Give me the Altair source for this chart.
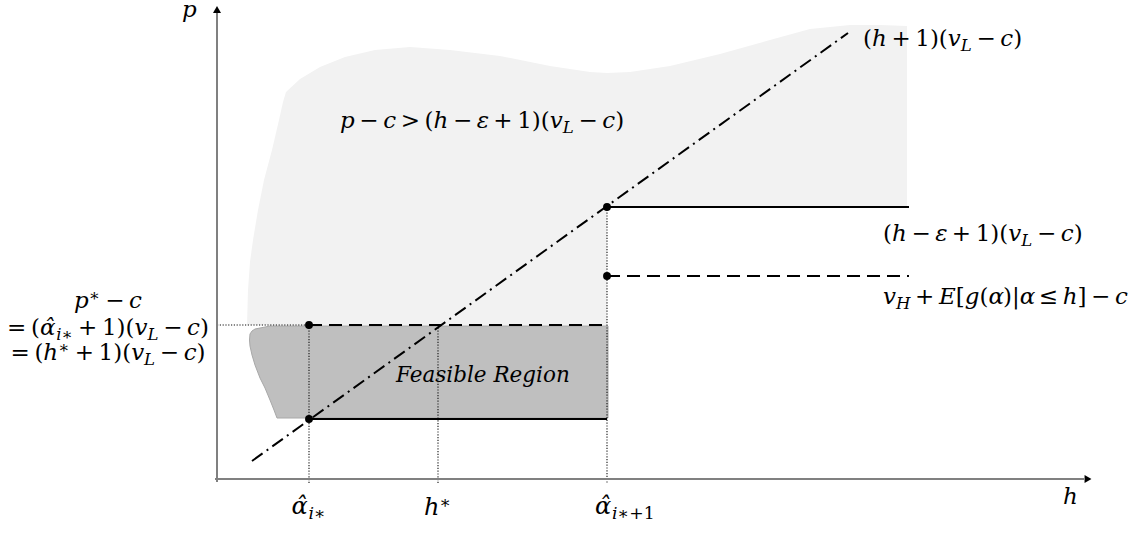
import altair as alt
import pandas as pd

# ---------------------------------------------------------------
# Geometry of the diagram: h on the horizontal axis, p on the vertical
# ---------------------------------------------------------------
H_ALPHA_I = 92        # alpha-hat_{i*}
H_STAR = 221          # h*
H_ALPHA_NEXT = 390    # alpha-hat_{i*+1}
H_END = 692           # right end of the two price schedules
H_AXIS_END = 867
P_AXIS_END = 467

P_LOW = 60            # lower edge of the feasible region
P_STAR = 154          # p* - c
P_VH = 203            # v_H + E[g(alpha) | alpha <= h] - c
P_UP = 272            # (h - eps + 1)(v_L - c)

DIAG_H = [35, 631]    # (h + 1)(v_L - c)
DIAG_P = [18, 446]

# light region  p - c > (h - eps + 1)(v_L - c)
LIGHT_H = [30, 31, 33, 36, 41, 47, 55, 62, 66, 69, 83, 103, 128, 158, 193, 233,
           283, 333, 373, 390, 390.01, 413, 453, 503, 553, 593, 633, 663, 690]
LIGHT_TOP = [154, 189, 217, 239, 269, 299, 329, 359, 377, 387, 400, 412, 422, 429,
             432, 429, 423, 413, 407, 406, 406, 407, 413, 425, 439, 450, 454, 454, 453]
LIGHT_BOTTOM = [154] * 20 + [272] * 9

# feasible region
DARK_H = [32.5, 33, 35, 38, 43, 48, 53, 57, 60, 391]
DARK_TOP = [139, 145, 148, 150, 151, 152, 153, 153, 153, 153]
DARK_BOTTOM = [139, 133, 124, 114, 101, 91, 79, 69, 61, 61]

# ---------------------------------------------------------------
FONT = "DejaVu Serif"
FS = 23
XS = alt.Scale(domain=[-217, 923], nice=False, zero=False)
YS = alt.Scale(domain=[-54, 479], nice=False, zero=False)

# approximate advance widths (em) used to set math runs side by side
ROMAN_W = {"(": 0.390, ")": 0.390, "[": 0.390, "]": 0.390, "+": 0.838, "−": 0.838,
           "=": 0.838, ">": 0.838, "≤": 0.838, "|": 0.337, "1": 0.636, "∗": 0.72}
ITALIC_W = {"h": 0.644, "v": 0.565, "c": 0.560, "p": 0.640, "E": 0.734, "g": 0.640,
            "L": 0.667, "H": 0.872, "i": 0.320, "α": 0.630, "ε": 0.520, "\u0302": 0.0}
GAP = 0.2


def I(t):
    return (t, "i")


def R(t):
    return (t, "r")


def SUB(t):
    return (t, "sub")


def SUBR(t):
    return (t, "subr")


def SUP(t):
    return (t, "sup")


G = ("", "gap")
K = ("", "kern")


def set_math(tokens, h0, p0, size, center=False):
    runs, x = [], 0.0
    for text, kind in tokens:
        if kind == "gap":
            x += GAP * size
            continue
        if kind == "kern":
            x += 0.08 * size
            continue
        if kind in ("sub", "subr"):
            fs, dy = size * 0.72, -size * 0.2
        elif kind == "sup":
            fs, dy = size * 0.72, size * 0.3
        else:
            fs, dy = size, 0.0
        style = "italic" if kind in ("i", "sub") else "normal"
        table = ITALIC_W if style == "italic" else ROMAN_W
        w = sum(table.get(ch, 0.6) for ch in text) * fs
        runs.append({"dx": x, "dy": dy, "text": text, "size": fs, "style": style})
        x += w
    shift = h0 - (x / 2 if center else 0)
    return [{"h": r["dx"] + shift, "p": p0 + r["dy"], "text": r["text"],
             "size": r["size"], "style": r["style"]} for r in runs]


AH = "α\u0302"
rows = []
rows += set_math([I("p")], -35, 462, FS)
rows += set_math([I("h")], 846, -25, FS)
rows += set_math([R("("), I("h"), G, R("+"), G, R("1)("), I("v"), SUB("L"), G, R("−"), G,
                  I("c"), R(")")], 646, 433, FS)
rows += set_math([I("p"), G, R("−"), G, I("c"), G, R(">"), G, R("("), I("h"), G, R("−"), G,
                  I("ε"), G, R("+"), G, R("1)("), I("v"), SUB("L"), G, R("−"), G, I("c"),
                  R(")")], 123, 351, FS)
rows += set_math([R("("), I("h"), G, R("−"), G, I("ε"), G, R("+"), G, R("1)("), I("v"),
                  SUB("L"), G, R("−"), G, I("c"), R(")")], 666, 238, FS)
rows += set_math([I("v"), SUB("H"), G, R("+"), G, I("E"), R("["), I("g"), R("("), I("α"),
                  R(")|"), I("α"), G, R("≤"), G, I("h"), R("]"), G, R("−"), G, I("c")],
                 666, 175, FS)
rows += set_math([I("p"), SUP("∗"), G, R("−"), G, I("c")], -109, 171, FS, center=True)
rows += set_math([R("="), G, R("("), I(AH), K, SUB("i"), SUBR("∗"), G, R("+"), G, R("1)("),
                  I("v"), SUB("L"), G, R("−"), G, I("c"), R(")")], -109, 144, FS, center=True)
rows += set_math([R("="), G, R("("), I("h"), SUP("∗"), G, R("+"), G, R("1)("), I("v"),
                  SUB("L"), G, R("−"), G, I("c"), R(")")], -109, 119, FS, center=True)
rows += set_math([I(AH), K, SUB("i"), SUBR("∗")], H_ALPHA_I, -35, 24, center=True)
rows += set_math([I("h"), SUP("∗")], H_STAR, -36, 24, center=True)
rows += set_math([I(AH), K, SUB("i"), SUBR("∗+1")], 378, -35, 24)
rows.append({"h": 179, "p": 97, "text": "Feasible Region", "size": 21.5, "style": "italic"})
text_df = pd.DataFrame(rows)

# line segments of the diagram
segments = pd.DataFrame([
    # axes
    {"h": 0, "h2": 0, "p": -3, "p2": P_AXIS_END, "kind": "axis"},
    {"h": -2, "h2": H_AXIS_END, "p": 0, "p2": 0, "kind": "axis"},
    # guides
    {"h": 0, "h2": H_ALPHA_I, "p": P_STAR, "p2": P_STAR, "kind": "dotted"},
    {"h": H_ALPHA_I, "h2": H_ALPHA_I, "p": P_STAR, "p2": -4, "kind": "dotted"},
    {"h": H_STAR, "h2": H_STAR, "p": P_STAR, "p2": -4, "kind": "dotted"},
    {"h": H_ALPHA_NEXT, "h2": H_ALPHA_NEXT, "p": P_UP, "p2": -4, "kind": "dotted"},
    # price schedules
    {"h": H_ALPHA_I, "h2": H_ALPHA_NEXT, "p": P_LOW, "p2": P_LOW, "kind": "solid"},
    {"h": H_ALPHA_NEXT, "h2": H_END, "p": P_UP, "p2": P_UP, "kind": "solid"},
    {"h": H_ALPHA_I, "h2": H_ALPHA_NEXT, "p": P_STAR, "p2": P_STAR, "kind": "dashed"},
    {"h": H_ALPHA_NEXT, "h2": H_END, "p": P_VH, "p2": P_VH, "kind": "dashed"},
    {"h": DIAG_H[0], "h2": DIAG_H[1], "p": DIAG_P[0], "p2": DIAG_P[1], "kind": "dashdot"},
])

dots = pd.DataFrame({"h": [H_ALPHA_I, H_ALPHA_I, H_ALPHA_NEXT, H_ALPHA_NEXT],
                     "p": [P_STAR, P_LOW, P_UP, P_VH]})

light = pd.DataFrame({"h": LIGHT_H, "top": LIGHT_TOP, "bottom": LIGHT_BOTTOM})
dark = pd.DataFrame({"h": DARK_H, "top": DARK_TOP, "bottom": DARK_BOTTOM})

X = alt.X("h:Q", scale=XS, axis=None)


def area(df, color, **kw):
    return alt.Chart(df).mark_area(color=color, **kw).encode(
        x=X,
        y=alt.Y("top:Q", scale=YS, axis=None, stack=False),
        y2="bottom:Q",
    )


def seg_layer(kind, **mark):
    return alt.Chart(segments).transform_filter(alt.datum.kind == kind).mark_rule(**mark).encode(
        x=X, x2="h2:Q", y=alt.Y("p:Q", scale=YS, axis=None), y2="p2:Q")


light_area = area(light, "#f2f2f2")
dark_area = area(dark, "#bfbfbf", stroke="#a8a8a8", strokeWidth=1)

dotted = seg_layer("dotted", color="#111111", strokeWidth=1.1, strokeDash=[1.2, 1.6])
axes = seg_layer("axis", color="#808080", strokeWidth=2)
solid = seg_layer("solid", color="black", strokeWidth=2.2)
dashed = seg_layer("dashed", color="black", strokeWidth=2.2, strokeDash=[13, 7])
dashdot = seg_layer("dashdot", color="black", strokeWidth=2, strokeDash=[13, 5, 2, 5])

points = alt.Chart(dots).mark_circle(color="black", size=62, opacity=1).encode(
    x=X, y=alt.Y("p:Q", scale=YS, axis=None))

arrows = pd.DataFrame({"h": [0, 871], "p": [469.5, 0], "shape": ["triangle-up", "triangle-right"]})
arrowheads = alt.Chart(arrows).mark_point(filled=True, color="black", size=64, opacity=1).encode(
    x=X, y=alt.Y("p:Q", scale=YS, axis=None),
    shape=alt.Shape("shape:N", scale=None))

text_base = alt.Chart(text_df)
text_enc = dict(x=X, y=alt.Y("p:Q", scale=YS, axis=None), text="text:N",
                size=alt.Size("size:Q", scale=None))
text_italic = text_base.transform_filter(alt.datum.style == "italic").mark_text(
    font=FONT, fontStyle="italic", align="left", baseline="alphabetic", color="black"
).encode(**text_enc)
text_roman = text_base.transform_filter(alt.datum.style == "normal").mark_text(
    font=FONT, align="left", baseline="alphabetic", color="black"
).encode(**text_enc)

chart = alt.layer(
    light_area, dark_area, dotted, axes, solid, dashed, dashdot, points, arrowheads,
    text_italic, text_roman,
).properties(
    width=1140, height=533, padding=0,
    autosize=alt.AutoSizeParams(type="none"),
    background="white",
).configure_view(strokeWidth=0)

chart.save("out.html", embed_options={"renderer": "svg", "actions": False})
